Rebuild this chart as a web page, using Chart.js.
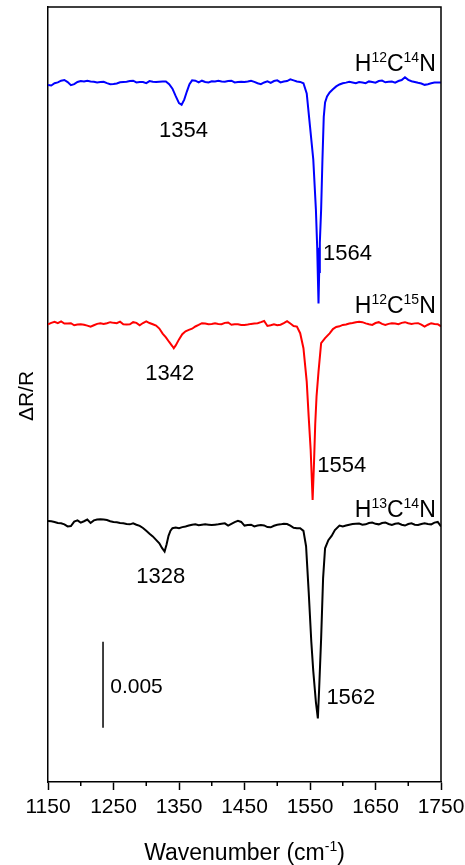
<!DOCTYPE html>
<html>
<head>
<meta charset="utf-8">
<title>HCN isotopes</title>
<script src="https://cdn.jsdelivr.net/npm/chart.js@4.4.0/dist/chart.umd.min.js"></script>
<style>
  html, body { margin: 0; padding: 0; background: #fff; }
  #chart { display: block; }
</style>
</head>
<body>
<canvas id="chart" width="465" height="865"></canvas>
<script>
// ΔR/R values are in units of 1e-3 (baseline ~ 0)
const blueWn = [
  1150, 1155, 1160, 1165, 1170, 1175, 1180, 1185, 1190, 1195,
  1200, 1205, 1210, 1215, 1220, 1225, 1230, 1235, 1240, 1245,
  1250, 1255, 1260, 1265, 1270, 1275, 1280, 1285, 1290, 1295,
  1300, 1305, 1310, 1315, 1320, 1325, 1330, 1335, 1340, 1345,
  1350, 1354, 1358, 1362, 1366, 1370, 1375, 1380, 1385, 1390,
  1395, 1400, 1405, 1410, 1415, 1420, 1425, 1430, 1435, 1440,
  1445, 1450, 1455, 1460, 1465, 1470, 1475, 1480, 1485, 1490,
  1495, 1500, 1505, 1510, 1515, 1520, 1525, 1530, 1535, 1540,
  1545, 1550, 1555, 1559, 1561, 1562, 1563, 1564, 1565, 1567,
  1569, 1571, 1573, 1576, 1580, 1585, 1590, 1595, 1600, 1605,
  1610, 1615, 1620, 1625, 1630, 1635, 1640, 1645, 1650, 1655,
  1660, 1665, 1670, 1675, 1680, 1685, 1690, 1695, 1700, 1705,
  1710, 1715, 1720, 1725, 1730, 1735, 1740, 1745, 1750
];
const blueVals = [
  -0.15, -0.18, -0.05, 0.00, 0.10, 0.14, 0.02, -0.16, -0.10, 0.03,
  0.08, 0.05, 0.10, 0.06, 0.04, 0.00, 0.02, 0.04, -0.04, -0.10,
  -0.09, -0.06, 0.01, 0.03, 0.04, 0.08, 0.10, 0.00, 0.03, 0.02,
  -0.04, 0.08, 0.04, 0.02, 0.04, 0.06, 0.06, -0.10, -0.36, -0.80,
  -1.20, -1.30, -1.00, -0.53, -0.10, 0.12, 0.10, 0.00, 0.10, 0.03,
  0.00, 0.07, 0.06, 0.10, 0.05, 0.04, 0.08, 0.10, 0.00, 0.02,
  0.04, 0.02, 0.05, 0.10, 0.03, -0.05, -0.10, 0.00, 0.06, -0.03,
  0.08, 0.12, 0.00, 0.05, 0.08, 0.18, 0.12, 0.06, 0.03, -0.05,
  -0.64, -2.55, -4.47, -7.37, -9.60, -11.27, -12.83, -11.00, -9.30, -7.37,
  -4.47, -2.00, -1.16, -0.81, -0.58, -0.40, -0.23, -0.12, -0.05, -0.01,
  0.04, 0.00, -0.05, 0.02, 0.00, -0.04, 0.06, 0.03, -0.01, 0.08,
  0.11, 0.01, 0.04, 0.05, -0.01, 0.08, 0.14, 0.30, 0.15, 0.07,
  0.03, -0.02, -0.06, -0.14, -0.10, -0.05, -0.01, -0.01, -0.01
];

const redWn = [
  1150, 1155, 1160, 1165, 1170, 1175, 1180, 1185, 1190, 1195,
  1200, 1205, 1210, 1215, 1220, 1225, 1230, 1235, 1240, 1245,
  1250, 1255, 1260, 1265, 1270, 1275, 1280, 1285, 1290, 1295,
  1300, 1305, 1310, 1315, 1320, 1325, 1330, 1335, 1340, 1342,
  1345, 1350, 1355, 1360, 1365, 1370, 1375, 1380, 1385, 1390,
  1395, 1400, 1405, 1410, 1415, 1420, 1425, 1430, 1435, 1440,
  1445, 1450, 1455, 1460, 1465, 1470, 1475, 1480, 1485, 1490,
  1495, 1500, 1505, 1510, 1515, 1520, 1525, 1530, 1535, 1540,
  1545, 1548, 1551, 1554, 1556, 1558, 1560, 1563, 1567, 1573,
  1580, 1585, 1590, 1595, 1600, 1605, 1610, 1615, 1620, 1625,
  1630, 1635, 1640, 1645, 1650, 1655, 1660, 1665, 1670, 1675,
  1680, 1685, 1690, 1695, 1700, 1705, 1710, 1715, 1720, 1725,
  1730, 1735, 1740, 1745, 1750
];
const redVals = [
  -0.02, 0.06, 0.12, 0.04, 0.14, 0.02, 0.02, 0.04, -0.08, -0.04,
  -0.02, -0.05, -0.10, -0.16, -0.08, 0.00, 0.04, -0.01, 0.04, 0.10,
  0.06, 0.04, 0.13, -0.02, -0.04, -0.02, 0.10, 0.06, -0.08, 0.05,
  0.15, 0.05, -0.02, -0.10, -0.27, -0.56, -0.78, -1.05, -1.30, -1.41,
  -1.25, -0.90, -0.60, -0.43, -0.35, -0.28, -0.15, -0.06, 0.04, 0.02,
  -0.02, 0.00, 0.03, 0.00, -0.02, 0.06, 0.08, -0.05, -0.02, -0.02,
  -0.06, -0.06, -0.04, 0.00, 0.02, 0.04, 0.10, 0.17, -0.12, -0.08,
  -0.02, -0.08, -0.05, 0.04, 0.16, 0.02, -0.12, -0.16, -0.54, -1.41,
  -3.35, -5.40, -7.30, -10.22, -8.20, -5.80, -4.20, -2.77, -1.12, -0.83,
  -0.55, -0.30, -0.18, -0.14, -0.06, -0.04, 0.02, 0.05, 0.10, 0.13,
  0.10, 0.03, -0.02, -0.06, 0.05, 0.10, 0.00, -0.06, 0.00, 0.04,
  0.02, -0.02, 0.06, 0.10, 0.04, 0.00, 0.03, 0.04, -0.04, -0.16,
  -0.05, 0.04, 0.00, -0.02, -0.14
];

const blackWn = [
  1150, 1155, 1160, 1165, 1170, 1175, 1180, 1185, 1190, 1195,
  1200, 1205, 1210, 1215, 1220, 1225, 1230, 1235, 1240, 1245,
  1250, 1255, 1260, 1265, 1270, 1275, 1280, 1285, 1290, 1295,
  1300, 1305, 1310, 1315, 1320, 1324, 1328, 1331, 1334, 1337,
  1340, 1345, 1350, 1355, 1360, 1365, 1370, 1375, 1380, 1385,
  1390, 1395, 1400, 1405, 1410, 1415, 1420, 1425, 1430, 1435,
  1440, 1445, 1450, 1455, 1460, 1465, 1470, 1475, 1480, 1485,
  1490, 1495, 1500, 1505, 1510, 1515, 1520, 1525, 1530, 1535,
  1540, 1544, 1548, 1552, 1555, 1559, 1562, 1564, 1567, 1570,
  1573, 1578, 1583, 1588, 1595, 1600, 1605, 1610, 1615, 1620,
  1625, 1630, 1635, 1640, 1645, 1650, 1655, 1660, 1665, 1670,
  1675, 1680, 1685, 1690, 1695, 1700, 1705, 1710, 1715, 1720,
  1725, 1730, 1735, 1740, 1745, 1750
];
const blackVals = [
  0.12, 0.10, 0.06, 0.00, -0.02, -0.08, -0.20, -0.18, 0.08, 0.15,
  0.02, 0.10, 0.20, 0.00, 0.15, 0.20, 0.22, 0.20, 0.17, 0.10,
  0.06, 0.04, 0.00, -0.02, -0.06, -0.08, -0.02, -0.10, -0.17, -0.29,
  -0.45, -0.62, -0.78, -0.98, -1.18, -1.45, -1.66, -1.25, -0.75, -0.45,
  -0.30, -0.27, -0.30, -0.24, -0.20, -0.15, -0.10, -0.08, -0.13, -0.10,
  -0.08, -0.10, -0.12, -0.10, -0.08, -0.05, -0.02, -0.15, -0.05, 0.05,
  0.12, 0.06, -0.15, -0.12, -0.10, -0.20, -0.15, -0.12, -0.14, -0.24,
  -0.25, -0.16, -0.10, -0.08, -0.04, -0.06, -0.16, -0.28, -0.31, -0.31,
  -0.46, -1.35, -4.00, -6.90, -8.60, -10.40, -11.35, -9.60, -6.70, -3.20,
  -1.47, -1.00, -0.75, -0.41, -0.15, -0.20, -0.15, -0.10, -0.06, -0.04,
  -0.03, -0.10, -0.08, 0.00, 0.03, -0.05, -0.08, 0.00, 0.03, -0.06,
  -0.12, -0.05, -0.02, -0.10, -0.15, -0.06, -0.02, -0.10, -0.12, -0.06,
  -0.02, -0.06, -0.08, 0.02, 0.06, -0.20
];

// vertical stacking of the three traces (same 1e-3 units)
const seriesNames = ["H{12}C{14}N", "H{12}C{15}N", "H{13}C{14}N"];
const seriesColors = ["#0000ff", "#ff0000", "#000000"];
const seriesOffsets = [40.62, 26.6, 15.04];

const xTicks = [1150, 1250, 1350, 1450, 1550, 1650, 1750];
const xMinorTicks = [1200, 1300, 1400, 1500, 1600, 1700];

// scale bar: 0.005 in ΔR/R
const scaleBarValue = 5;
const scaleBarLabel = "0.005";

const FONT = "'Liberation Sans', Arial, sans-serif";

// text placed in data coordinates: [text, wavenumber, y, align]
const peakLabels = [
  ["1354", 1357, 37.46, "center"],
  ["1564", 1570, 30.3, "left"],
  ["1342", 1336, 23.35, "center"],
  ["1554", 1561, 18.0, "left"],
  ["1328", 1322, 11.56, "center"],
  ["1562", 1575, 4.53, "left"]
];
const nameLabelPos = [[1742, 41.29], [1742, 27.24], [1742, 15.39]];
const scaleBarPos = [1234, 3.15];

function toPoints(wn, vals, offset) {
  return wn.map((w, i) => ({ x: w, y: vals[i] + offset }));
}

function drawRich(ctx, text, px, py, align, size) {
  const parts = [];
  text.replace(/\{(.*?)\}|[^{]+/g, (m, sup) => {
    parts.push(sup !== undefined ? { t: sup, sup: true } : { t: m, sup: false });
    return m;
  });
  const supSize = Math.round(size * 0.62);
  const widths = parts.map(p => {
    ctx.font = (p.sup ? supSize : size) + "px " + FONT;
    return ctx.measureText(p.t).width;
  });
  const total = widths.reduce((s, w) => s + w, 0);
  let cx = align === "right" ? px - total : align === "center" ? px - total / 2 : px;
  ctx.textAlign = "left";
  ctx.textBaseline = "alphabetic";
  parts.forEach((p, i) => {
    ctx.font = (p.sup ? supSize : size) + "px " + FONT;
    ctx.fillText(p.t, cx, p.sup ? py - size * 0.4 : py);
    cx += widths[i];
  });
}

const decorations = {
  id: "decorations",
  afterDraw(chart) {
    const { ctx, chartArea: a, scales: { x, y } } = chart;
    ctx.save();
    ctx.strokeStyle = "#000";
    ctx.lineWidth = 1.5;
    ctx.beginPath();
    ctx.moveTo(a.left, a.top);
    ctx.lineTo(a.right, a.top);
    ctx.lineTo(a.right, a.bottom);
    xMinorTicks.forEach(v => {
      const px = x.getPixelForValue(v);
      ctx.moveTo(px, a.bottom);
      ctx.lineTo(px, a.bottom + 4);
    });
    ctx.stroke();

    ctx.fillStyle = "#000";
    peakLabels.forEach(([t, w, v, align]) => {
      drawRich(ctx, t, x.getPixelForValue(w), y.getPixelForValue(v), align, 22);
    });
    seriesNames.forEach((name, i) => {
      const [w, v] = nameLabelPos[i];
      drawRich(ctx, name, x.getPixelForValue(w), y.getPixelForValue(v), "right", 23);
    });
    drawRich(ctx, scaleBarLabel, x.getPixelForValue(scaleBarPos[0] + 11),
      y.getPixelForValue(scaleBarPos[1] + 2.02), "left", 21);

    // axis titles
    drawRich(ctx, "Wavenumber (cm{-1})", (a.left + a.right) / 2, 860, "center", 23);
    ctx.translate(25, 396);
    ctx.rotate(-Math.PI / 2);
    drawRich(ctx, "\u0394R/R", 0, 8, "center", 21);
    ctx.restore();
  }
};

const datasets = seriesNames.map((name, i) => ({
  label: name,
  data: toPoints([blueWn, redWn, blackWn][i], [blueVals, redVals, blackVals][i], seriesOffsets[i]),
  borderColor: seriesColors[i],
  borderWidth: 2,
  pointRadius: 0,
  tension: 0,
  fill: false
}));
datasets.push({
  label: "scale",
  data: [
    { x: scaleBarPos[0], y: scaleBarPos[1] },
    { x: scaleBarPos[0], y: scaleBarPos[1] + scaleBarValue }
  ],
  borderColor: "#000",
  borderWidth: 1.5,
  pointRadius: 0
});

new Chart(document.getElementById("chart").getContext("2d"), {
  type: "line",
  data: { datasets },
  options: {
    responsive: false,
    animation: false,
    layout: { padding: { top: 7, right: 24, left: 0, bottom: 0 } },
    plugins: { legend: { display: false }, tooltip: { enabled: false } },
    scales: {
      x: {
        type: "linear",
        min: 1150,
        max: 1750,
        afterFit: scale => {
          scale.height = 83;
          scale.paddingLeft = 0;
          scale.paddingRight = 0;
        },
        afterBuildTicks: scale => { scale.ticks = xTicks.map(v => ({ value: v })); },
        ticks: {
          color: "#000",
          padding: 5,
          maxRotation: 0,
          font: { family: FONT, size: 21 },
          callback: value => String(value)
        },
        grid: {
          drawOnChartArea: false,
          drawTicks: true,
          tickLength: 8,
          tickColor: "#000",
          tickWidth: 1.5
        },
        border: { display: true, color: "#000", width: 1.5 }
      },
      y: {
        type: "linear",
        min: 0,
        max: 45,
        afterFit: scale => { scale.width = 48; },
        ticks: { display: false },
        grid: { display: false },
        border: { display: true, color: "#000", width: 1.5 }
      }
    }
  },
  plugins: [decorations]
});
</script>
</body>
</html>
